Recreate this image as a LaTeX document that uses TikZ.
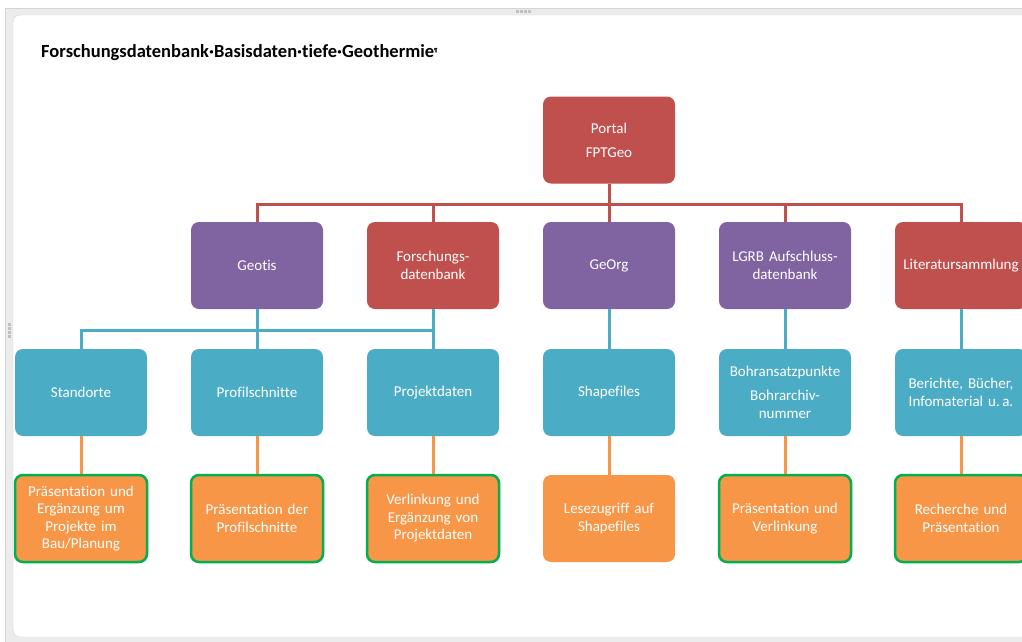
\documentclass[tikz,border=0pt]{standalone}
\usepackage{fontspec}
\setmainfont{Carlito}[Ligatures=NoCommon]
\usetikzlibrary{positioning,calc}
\definecolor{OrgRed}{HTML}{C0504D}
\definecolor{OrgPurple}{HTML}{8064A2}
\definecolor{OrgBlue}{HTML}{4BACC6}
\definecolor{OrgOrange}{HTML}{F79646}
\definecolor{OrgGreen}{HTML}{00B050}
\definecolor{FrameGray}{HTML}{D4D4D4}

\begin{document}
\begin{tikzpicture}[x=1pt,y=-1pt,
  orgbox/.style={rounded corners=8pt,minimum width=132pt,minimum height=87pt,
    inner sep=2pt,text width=126pt,text=white,align=center,
    font=\fontsize{15}{17.5}\selectfont},
  redbox/.style={orgbox,fill=OrgRed},
  violetbox/.style={orgbox,fill=OrgPurple},
  bluebox/.style={orgbox,fill=OrgBlue},
  taskbox/.style={orgbox,fill=OrgOrange},
  greenframe/.style={draw=OrgGreen,line width=2.5pt},
  link/.style={line width=3pt}]
  % window frame
  \clip (0,0) rectangle (1022,641);
  \fill[FrameGray!45,draw=FrameGray] (5,8) rectangle (1040,660);
  \fill[white,draw=FrameGray,rounded corners=7pt] (13,15) rectangle (1050,637);
  \foreach \i in {0,1,2,3} {
    \fill[FrameGray!90!black] (516+4*\i,10) rectangle ++(2.5,2.5);
    \fill[FrameGray!90!black] (8,323+4*\i) rectangle ++(2.5,2.5);
  }
  \node[anchor=base west,inner sep=0pt,font=\fontsize{18.5}{21}\bfseries\selectfont] (title) at (41,57)
    {Forschungsdatenbank·Basisdaten·tiefe·Geothermie{\fontsize{6}{6}\selectfont\raisebox{5pt}{¶}}};

  % level 1
  \node[redbox] (portal) at (609,140) {Portal\\[6.5pt]FPTGeo};
  % level 2
  \node[violetbox] (geotis) at (257,265.5) {Geotis};
  \node[redbox] (fdb) at (433,265.5) {Forschungs-\\datenbank};
  \node[violetbox] (georg) at (609,265.5) {GeOrg};
  \node[violetbox] (lgrb) at (785,265.5) {LGRB Aufschluss-\\datenbank};
  \node[redbox] (litsamm) at (961,265.5) {Literatursammlung};
  % level 3
  \node[bluebox] (standorte) at (81,392.5) {Standorte};
  \node[bluebox] (profil) at (257,392.5) {Profilschnitte};
  \node[bluebox] (projekt) at (433,392.5) {Projektdaten};
  \node[bluebox] (shape) at (609,392.5) {Shapefiles};
  \node[bluebox] (bohr) at (785,392.5) {Bohransatzpunkte\\[6.5pt]Bohrarchiv-\\nummer};
  \node[bluebox] (berichte) at (961,392.5) {Berichte, Bücher,\\Infomaterial u.\,a.};
  % level 4
  \node[taskbox,greenframe] (praes) at (81,518.5) {Präsentation und\\Ergänzung um\\Projekte im\\Bau/Planung};
  \node[taskbox,greenframe] (praesprofil) at (257,518.5) {Präsentation der\\Profilschnitte};
  \node[taskbox,greenframe] (verlink) at (433,518.5) {Verlinkung und\\Ergänzung von\\Projektdaten};
  \node[taskbox] (lese) at (609,518.5) {Lesezugriff auf\\Shapefiles};
  \node[taskbox,greenframe] (praesverl) at (785,518.5) {Präsentation und\\Verlinkung};
  \node[taskbox,greenframe] (recherche) at (961,518.5) {Recherche und\\Präsentation};

  % connectors
  \coordinate (redbus) at (609,204);
  \coordinate (bluebus) at (257,330);
  \draw[link,OrgRed] (portal.south) -- (redbus);
  \foreach \n in {geotis,fdb,georg,lgrb,litsamm}
    \draw[link,OrgRed] (redbus) -| (\n.north);
  \draw[link,OrgBlue] (geotis.south) -- (bluebus);
  \draw[link,OrgBlue] (fdb.south) |- (bluebus);
  \foreach \n in {standorte,profil,projekt}
    \draw[link,OrgBlue] (bluebus) -| (\n.north);
  \draw[link,OrgBlue] (georg) -- (shape);
  \draw[link,OrgBlue] (lgrb) -- (bohr);
  \draw[link,OrgBlue] (litsamm) -- (berichte);
  \draw[link,OrgOrange] (standorte) -- (praes);
  \draw[link,OrgOrange] (profil) -- (praesprofil);
  \draw[link,OrgOrange] (projekt) -- (verlink);
  \draw[link,OrgOrange] (shape) -- (lese);
  \draw[link,OrgOrange] (bohr) -- (praesverl);
  \draw[link,OrgOrange] (berichte) -- (recherche);
\end{tikzpicture}
\end{document}
